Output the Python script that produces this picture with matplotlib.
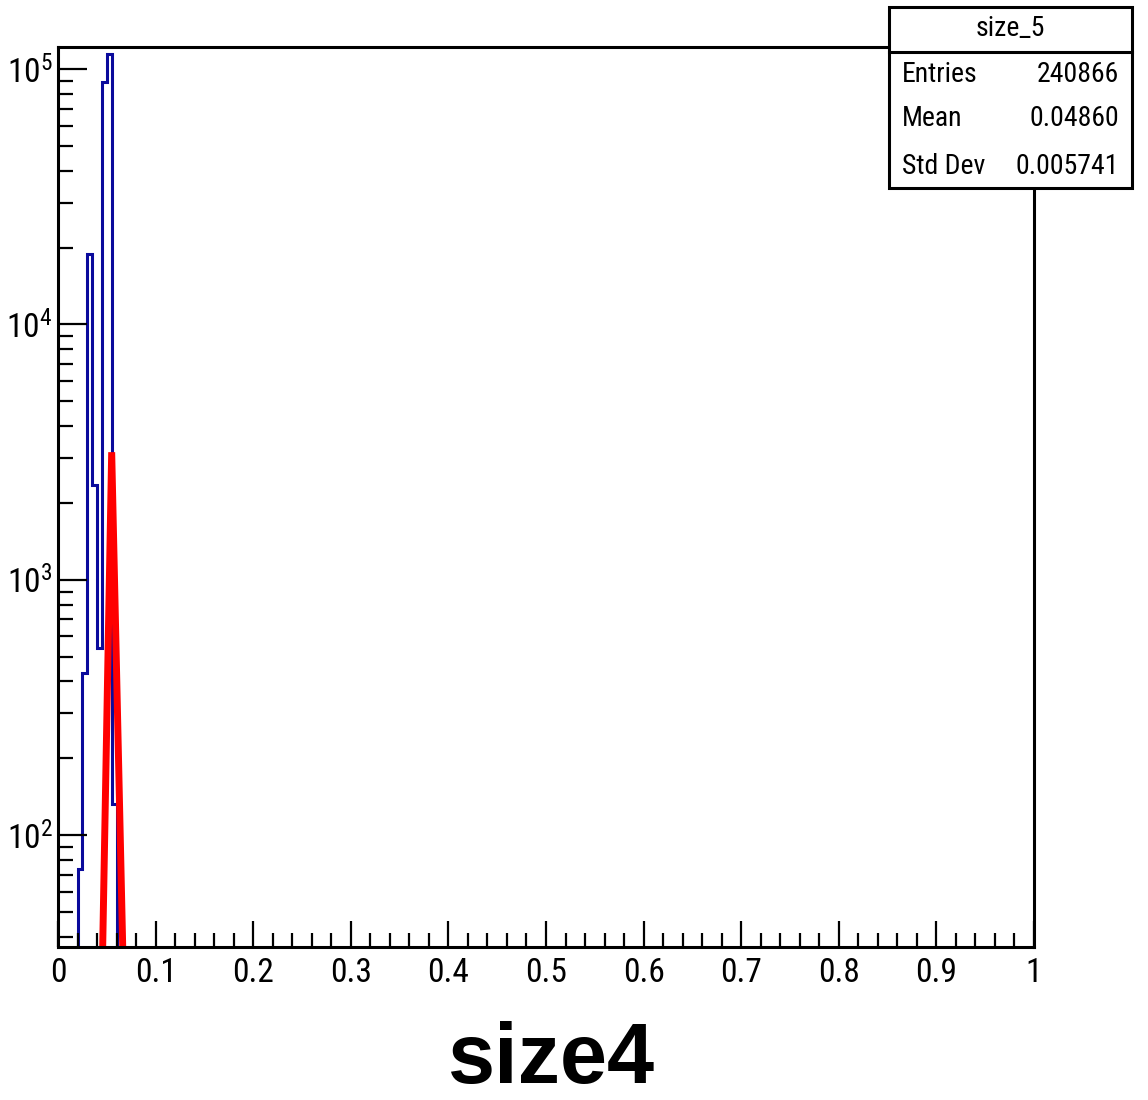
import matplotlib
matplotlib.use("Agg")
import matplotlib.pyplot as plt
from matplotlib import font_manager
from matplotlib.patches import Rectangle
from matplotlib.lines import Line2D
import matplotlib.ticker as mticker
import numpy as np

# ---- data ----
bin_edges = [0.020, 0.025, 0.030, 0.035, 0.040, 0.045, 0.050, 0.055, 0.060]
bin_counts = [74, 430, 18900, 2350, 540, 89000, 115000, 132]
fit_x = [0.045, 0.055, 0.070]
fit_y = [25, 3160, 8.5]
x_ticks = [0, 0.1, 0.2, 0.3, 0.4, 0.5, 0.6, 0.7, 0.8, 0.9, 1.0]
x_tick_labels = ["0", "0.1", "0.2", "0.3", "0.4", "0.5", "0.6", "0.7", "0.8", "0.9", "1"]
y_ticks = [1e2, 1e3, 1e4, 1e5]
y_tick_labels = [r"$\mathregular{10^{2}}$", r"$\mathregular{10^{3}}$",
                 r"$\mathregular{10^{4}}$", r"$\mathregular{10^{5}}$"]
stats_title = "size_5"
stats_names = ["Entries", "Mean", "Std Dev"]
stats_values = ["240866", "0.04860", "0.005741"]
x_title = "size4"

# ---- fonts ----
names = {f.name for f in font_manager.fontManager.ttflist}
base_font = "Liberation Sans"
for cand in ["Liberation Sans Narrow", "Arial Narrow", "Roboto Condensed",
             "Archivo Narrow", "PT Sans Narrow", "Sofia Sans Condensed"]:
    if cand in names:
        base_font = cand
        break
plt.rcParams["font.family"] = [base_font, "DejaVu Sans"]
plt.rcParams["mathtext.fontset"] = "custom"
plt.rcParams["mathtext.rm"] = base_font

W, H = 1148, 1100
fig = plt.figure(figsize=(W / 100, H / 100), dpi=100)
L, R, T, B = 58, 1034, 47, 947
ax = fig.add_axes([L / W, 1 - B / H, (R - L) / W, (B - T) / H])

ax.stairs(bin_counts, bin_edges, baseline=1.0, color="#0a0a9c", lw=2.2)
ax.plot(fit_x, fit_y, color="#ff0000", lw=5, solid_joinstyle="miter")

ax.set_yscale("log")
ax.set_xlim(0, 1)
ax.set_ylim(36.5, 1.22e5)

ax.set_xticks(x_ticks)
ax.set_xticklabels(x_tick_labels)
ax.xaxis.set_minor_locator(mticker.MultipleLocator(0.02))
ax.set_yticks(y_ticks)
ax.set_yticklabels(y_tick_labels)
ax.yaxis.set_minor_locator(mticker.LogLocator(base=10, subs=np.arange(2, 10)))
ax.yaxis.set_minor_formatter(mticker.NullFormatter())

ax.tick_params(axis="x", which="major", direction="in", length=19, width=1.6,
               labelsize=24, pad=7, top=False)
ax.tick_params(axis="x", which="minor", direction="in", length=10, width=1.6, top=False)
ax.tick_params(axis="y", which="major", direction="in", length=21, width=1.6,
               labelsize=24, pad=4, right=False)
ax.tick_params(axis="y", which="minor", direction="in", length=11, width=1.6, right=False)
for s in ax.spines.values():
    s.set_linewidth(2.2)

# x title
fig.text(551 / W, 1 - 1083 / H, x_title, ha="center", va="baseline",
         fontsize=61, fontweight="bold", family=["Liberation Sans", "DejaVu Sans"])

# stats box
bx0, bx1, by0, by1, bdiv = 889, 1132, 7, 188, 52
fig.patches.append(Rectangle((bx0 / W, 1 - by1 / H), (bx1 - bx0) / W, (by1 - by0) / H,
                             transform=fig.transFigure, facecolor="white",
                             edgecolor="black", lw=2.2, zorder=10))
fig.lines.append(Line2D([bx0 / W, bx1 / W], [1 - bdiv / H, 1 - bdiv / H],
                        transform=fig.transFigure, color="black", lw=2.2, zorder=11))
fig.text((bx0 + bx1) / 2 / W, 1 - 29 / H, stats_title, ha="center", va="center",
         fontsize=20, zorder=12)
rows_y = [74, 119, 166]
for n, v, yy in zip(stats_names, stats_values, rows_y):
    fig.text(902 / W, 1 - yy / H, n, ha="left", va="center", fontsize=20, zorder=12)
    fig.text(1119 / W, 1 - yy / H, v, ha="right", va="center", fontsize=20, zorder=12)

fig.savefig("out.png", dpi=100, facecolor="white")
